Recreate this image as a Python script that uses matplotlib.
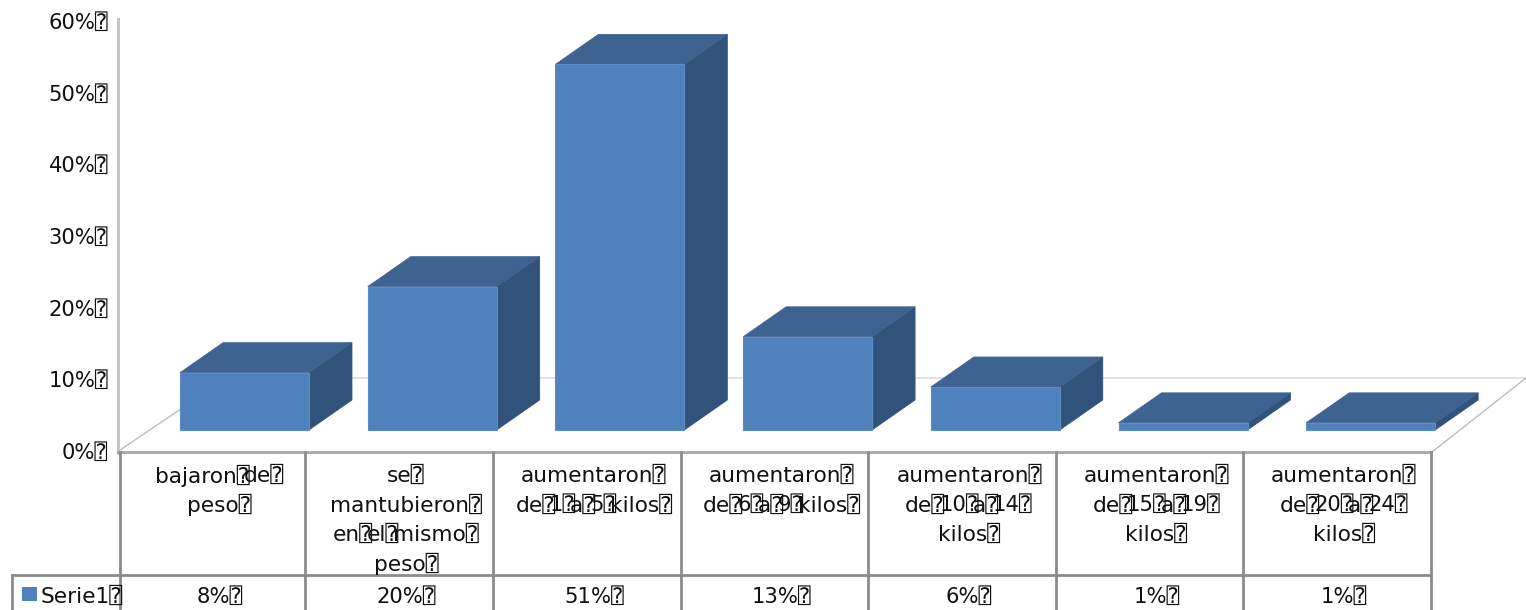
import matplotlib
matplotlib.use('Agg')
from matplotlib import pyplot as plt
from matplotlib.patches import Polygon

# datos de la tabla
categorias = [
    ["bajaron de", "peso"],
    ["se", "mantubieron", "en el mismo", "peso"],
    ["aumentaron", "de 1 a 5 kilos"],
    ["aumentaron", "de 6 a 9 kilos"],
    ["aumentaron", "de 10 a 14", "kilos"],
    ["aumentaron", "de 15 a 19", "kilos"],
    ["aumentaron", "de 20 a 24", "kilos"],
]
valores = [8, 20, 51, 13, 6, 1, 1]
marcas_y = [0, 10, 20, 30, 40, 50, 60]
serie = "Serie1"

# geometria en pixeles de la figura
ANCHO, ALTO = 1526, 610
ESCALA = 7.17
BASE_BARRA = 430
BASE_EJE = 452
X_BARRA = 180
PASO = 187.7
ANCHO_BARRA = 129
DX, DY = 43, -30
BORDES = [120, 305, 493, 681, 868, 1056, 1243, 1431]
FILA_SERIE = 575
FS = 15.6
FS_NUM = 15.2
CAJA = "\u2370"
FUENTE = ['DejaVu Sans', 'DejaVu Sans Mono']

fig = plt.figure(figsize=(ANCHO / 100, ALTO / 100), dpi=100)
ax = fig.add_axes([0, 0, 1, 1])
ax.set_xlim(0, ANCHO)
ax.set_ylim(ALTO, 0)
ax.axis('off')
renderer = fig.canvas.get_renderer()

def ancho(s, fs=FS):
    t = ax.text(0, 0, s, fontsize=fs, family=FUENTE)
    w = t.get_window_extent(renderer).width
    t.remove()
    return w

ESPACIO = ancho("a a") - ancho("aa")

def tam(p):
    # las cifras van algo mas pequenas que las letras
    return FS_NUM if p[0].isdigit() else FS

# cada palabra lleva su caja detras y la siguiente se monta encima
def linea(xc, y, s):
    palabras = s.split(" ")
    anchos = [ancho(p, tam(p)) for p in palabras]
    total = sum(anchos) + ESPACIO * (len(palabras) - 1) + ancho(CAJA)
    x = xc - total / 2
    for p, w in zip(palabras, anchos):
        ax.text(x, y, p + CAJA, fontsize=tam(p), family=FUENTE, ha='left', va='center',
                color='#111111', zorder=6)
        x += w + ESPACIO

# pared y piso
ax.plot([118, 118], [BASE_EJE + 1, 19], color='#c4c4c4', lw=2.2, zorder=1)
ax.plot([120, 212], [BASE_EJE - 2, 388], color='#bcbcbc', lw=1, zorder=1)
ax.plot([212, ANCHO], [378, 378], color='#dcdcdc', lw=1.2, zorder=1)
ax.plot([1432, ANCHO], [BASE_EJE, 378], color='#bcbcbc', lw=1, zorder=1)

# barras con su cara superior y lateral
for i, v in enumerate(valores):
    x0 = X_BARRA + i * PASO
    x1 = x0 + ANCHO_BARRA
    yt = BASE_BARRA - v * ESCALA
    ax.add_patch(Polygon([(x1, yt), (x1 + DX, yt + DY), (x1 + DX, BASE_BARRA + DY), (x1, BASE_BARRA)],
                         facecolor='#31527a', edgecolor='#31527a', lw=0.5, zorder=3))
    ax.add_patch(Polygon([(x0, yt), (x0 + DX, yt + DY), (x1 + DX, yt + DY), (x1, yt)],
                         facecolor='#3e6391', edgecolor='#3e6391', lw=0.5, zorder=3))
    ax.bar(x0, -v * ESCALA, width=ANCHO_BARRA, bottom=BASE_BARRA, align='edge',
           color='#4f81bd', edgecolor='#5b8cc6', lw=0.8, zorder=4)

# etiquetas del eje
for m in marcas_y:
    ax.text(108, BASE_EJE - m * ESCALA + 1, "%d%%%s" % (m, CAJA), fontsize=FS_NUM, family=FUENTE,
            ha='right', va='center', color='#111111')

# tabla de datos
gris = '#8c8c8c'
ax.plot([BORDES[0] - 2, BORDES[-1]], [BASE_EJE, BASE_EJE], color='#a8a8a8', lw=2, zorder=5)
ax.plot([12, BORDES[-1]], [FILA_SERIE, FILA_SERIE], color=gris, lw=2, zorder=5)
ax.plot([12, 12], [FILA_SERIE, ALTO], color=gris, lw=2, zorder=5)
for b in BORDES:
    ax.plot([b, b], [BASE_EJE, ALTO], color=gris, lw=2, zorder=5)

for i, lineas in enumerate(categorias):
    xc = (BORDES[i] + BORDES[i + 1]) / 2 + 7
    for j, s in enumerate(lineas):
        linea(xc, 476 + j * 29.3, s)
    linea(xc, 597, "%d%%" % valores[i])

ax.bar(22, 14, width=15, bottom=587, align='edge', color='#4f81bd', zorder=6)
linea(82, 597, serie)

fig.savefig('out.png', dpi=100)
